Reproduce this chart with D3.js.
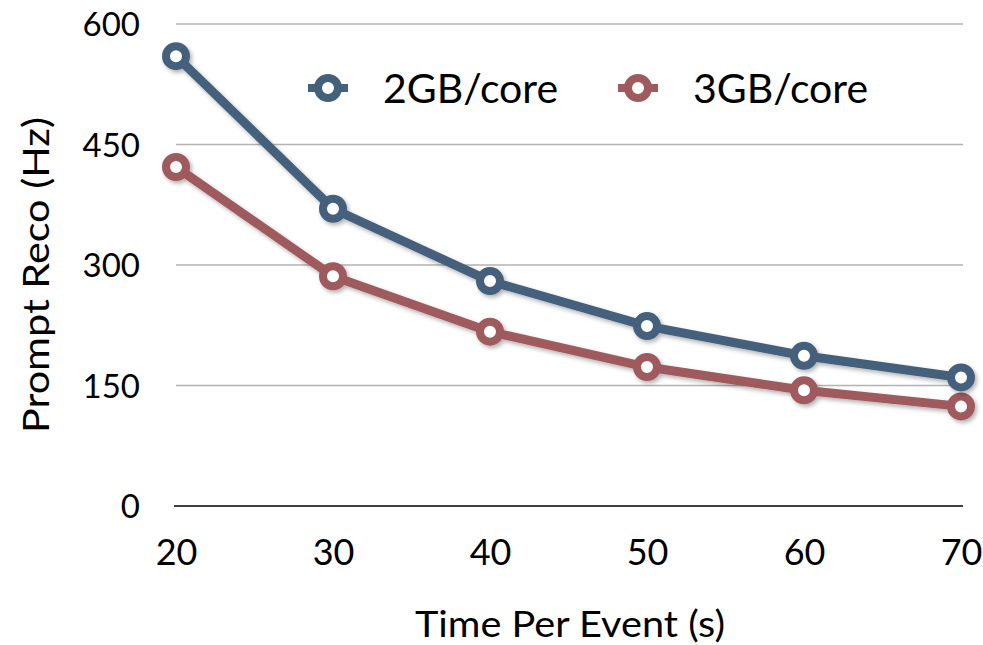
<!DOCTYPE html>
<html>
<head>
<meta charset="utf-8">
<script src="https://cdn.jsdelivr.net/npm/d3@7"></script>
<style>
  html, body { margin: 0; padding: 0; background: #fff; }
  svg { display: block; font-family: Lato, "Open Sans", sans-serif; }
</style>
</head>
<body>
<svg id="chart" width="983" height="645"></svg>
<script>
const xValues = [20, 30, 40, 50, 60, 70];
const series2GB = [560, 370, 280, 224, 187, 160];
const series3GB = [422, 286, 217, 173, 144, 124];
const yTicks = [0, 150, 300, 450, 600];
const seriesNames = ["2GB/core", "3GB/core"];
const seriesColors = ["#44617b", "#9e5a5c"];

const svg = d3.select("#chart");
const x = d3.scaleLinear().domain([20, 70]).range([176, 961]);
const y = d3.scaleLinear().domain([0, 600]).range([506, 24]);

const defs = svg.append("defs");
const f = defs.append("filter").attr("id", "shadow").attr("x", "-20%").attr("y", "-20%").attr("width", "140%").attr("height", "140%");
f.append("feDropShadow").attr("dx", 2).attr("dy", 2.5).attr("stdDeviation", 2).attr("flood-color", "#000").attr("flood-opacity", 0.3);

// gridlines
svg.append("g")
  .selectAll("line").data(yTicks.filter(d => d > 0)).join("line")
  .attr("x1", 176).attr("x2", 963)
  .attr("y1", d => y(d)).attr("y2", d => y(d))
  .attr("stroke", "#b3b3b3").attr("stroke-width", 1.5);

// y axis labels
const yAxis = d3.axisLeft(y).tickValues(yTicks).tickSize(0).tickPadding(0);
const yg = svg.append("g").attr("transform", "translate(140,0)").call(yAxis);
yg.select(".domain").remove();
yg.selectAll("text").attr("font-size", 33).attr("font-family", "Lato, sans-serif").attr("fill", "#000").attr("dy", "0.36em");

// x axis baseline
svg.append("line").attr("x1", 174).attr("x2", 963).attr("y1", y(0)).attr("y2", y(0))
  .attr("stroke", "#000").attr("stroke-width", 1.5);

// x labels
const xAxis = d3.axisBottom(x).tickValues(xValues).tickSize(0).tickPadding(0).tickFormat(d3.format("d"));
const xg = svg.append("g").attr("transform", "translate(0,552)").call(xAxis);
xg.select(".domain").remove();
xg.selectAll("text").attr("font-size", 36).attr("font-family", "Lato, sans-serif").attr("fill", "#000").attr("dy", "0.36em");

// axis titles
svg.append("text").attr("x", 570).attr("y", 637).attr("text-anchor", "middle")
  .attr("font-size", 37).attr("fill", "#000")
  .attr("textLength", 310).attr("lengthAdjust", "spacingAndGlyphs")
  .text("Time Per Event (s)");
svg.append("text").attr("transform", "translate(49,275) rotate(-90)").attr("text-anchor", "middle")
  .attr("font-size", 37).attr("fill", "#000")
  .attr("textLength", 316).attr("lengthAdjust", "spacingAndGlyphs")
  .text("Prompt Reco (Hz)");

// lines and markers
const allSeries = [series2GB, series3GB];
const line = d3.line().x((d, i) => x(xValues[i])).y(d => y(d));
[1, 0].forEach(si => {
  const g = svg.append("g").attr("filter", "url(#shadow)");
  g.append("path").datum(allSeries[si]).attr("d", line)
    .attr("fill", "none").attr("stroke", seriesColors[si]).attr("stroke-width", 9)
    .attr("stroke-linejoin", "round");
  g.selectAll("circle").data(allSeries[si]).join("circle")
    .attr("cx", (d, i) => x(xValues[i])).attr("cy", d => y(d))
    .attr("r", 10).attr("fill", "#fff").attr("stroke", seriesColors[si]).attr("stroke-width", 8);
});

// legend
const legendItems = [{cx: 328, tx: 383}, {cx: 638, tx: 693}];
legendItems.forEach((it, i) => {
  const g = svg.append("g");
  g.append("line").attr("x1", it.cx - 20).attr("x2", it.cx + 20).attr("y1", 88).attr("y2", 88)
    .attr("stroke", seriesColors[i]).attr("stroke-width", 8);
  g.append("circle").attr("cx", it.cx).attr("cy", 88).attr("r", 10)
    .attr("fill", "#fff").attr("stroke", seriesColors[i]).attr("stroke-width", 8);
  g.append("text").attr("x", it.tx).attr("y", 103).attr("font-size", 41).attr("fill", "#000")
    .text(seriesNames[i]);
});
</script>
</body>
</html>
